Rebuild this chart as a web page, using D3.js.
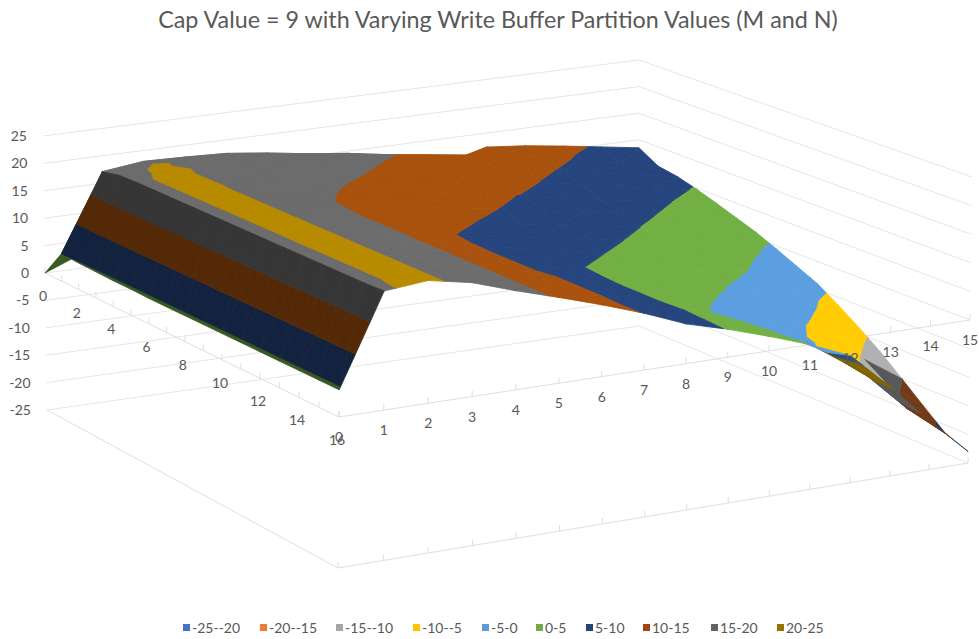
<!DOCTYPE html>
<html>
<head>
<meta charset="utf-8">
<script src="https://d3js.org/d3.v7.min.js"></script>
<style>
html,body{margin:0;padding:0;background:#fff;}
svg{display:block;}
text{font-family:Lato,"Open Sans",sans-serif;fill:#595959;}
</style>
</head>
<body>
<svg id="chart" width="979" height="639"></svg>
<script>
// Write-buffer surface: one row per M (0-16), one value per N (0-15).
const titleText = "Cap Value = 9 with Varying Write Buffer Partition Values (M and N)";
const mTicks = [0,2,4,6,8,10,12,14,16];
const nTicks = d3.range(0,16);
const zTicks = [25,20,15,10,5,0,-5,-10,-15,-20,-25];
const bandNames = ["-25--20","-20--15","-15--10","-10--5","-5-0","0-5","5-10","10-15","15-20","20-25"];
const bandLows = [-25,-20,-15,-10,-5,0,5,10,15,20];
const legendColors = ["#4472c4","#ed7d31","#a5a5a5","#ffc000","#5b9bd5","#70ad47","#264478","#9e480e","#636363","#997300"];
const surfaceColors = ["#3f6cc0","#e4762c","#b0b0b0","#ffcc05","#5b9fe0","#72b044","#26457e","#a8520e","#6c6c6c","#b88a00"];

const row0  = [0,3,0,0,0,0,0,0,0,0,9,12.4,11.7,10.7,9.6,8.5];
const row1  = [5,18.9,19.8,19.6,19.3,18.4,17.3,16.4,15.2,14.2,13.2,12.2,11.1,9.6,7.8,6.4];
const row2  = [4.8,19.6,20.2,19.5,19,18,16.6,15.2,14.2,13.4,12.4,11.1,9.7,8.3,7,5.8];
const row3  = [4.7,19.7,20.5,19.2,18.6,17,15.2,14.4,13.6,12.8,11.5,9.8,8.6,7.3,5.9,4.8];
const row4  = [4.6,19.7,20.5,19.2,17.8,15.5,14.2,13.1,12,10.9,9.8,8.5,7.2,6,4.8,3.6];
const row5  = [4.6,19.7,20.5,19.1,17,14.8,13.5,12.2,11,9.9,8.5,7.3,6.1,4.9,3.6,2.3];
const row6  = [4.5,19.7,20.5,19.1,16.9,14.6,12.9,11,9.8,8.5,7.3,6.2,5,3.7,2.4,1];
const row7  = [4.5,19.7,20.5,19.1,16.8,14.5,12.1,9.8,8.6,7.4,6.3,5.1,3.8,2.4,1.1,-0.6];
const row8  = [4.5,19.7,20.5,19.1,16.8,14.5,12,9.6,8,6.6,5.1,3.9,2.5,1.2,-0.2,-2.3];
const row9  = [4.5,19.7,20.5,19.1,16.8,14.5,12,9.5,7.3,5.1,3.9,2.7,1.5,0.3,-1.7,-4];
const row10 = [4.5,19.7,20.5,19.1,16.7,14.5,12.1,9.5,7.2,5,3.5,2,0.3,-1.9,-3.7,-6.4];
const row11 = [4.5,19.7,20.5,19.1,16.7,14.5,12.1,9.5,7,4.9,2.5,0.5,-1.2,-3.2,-5.4,-9];
const row12 = [4.5,19.7,20.5,19.1,16.7,14.5,12.2,9.8,7,4.9,1.4,-0.8,-2.8,-4.8,-7.8,-11.8];
const row13 = [4.5,19.7,20.5,19.1,16.7,14.5,12.2,9.8,6.9,4.9,1.6,-0.5,-3.2,-6.5,-10.4,-15];
const row14 = [4.5,19.7,20.5,19.1,16.7,14.5,12.2,9.8,6.9,5,2,-0.3,-3.8,-8.6,-13,-18.3];
const row15 = [4.5,19.7,20.5,19.1,16.7,14.5,12.2,9.7,6.8,4.9,2.2,-0.2,-4,-9.3,-16,-21.5];
const row16 = [4.5,19.8,20.5,19.1,16.7,14.5,12.2,9.7,6.8,4.8,2.5,0,-3,-9.5,-16.5,-23];
const zValues = [row0,row1,row2,row3,row4,row5,row6,row7,row8,row9,row10,row11,row12,row13,row14,row15,row16];

const svg = d3.select("#chart");

const scaleM = d3.scaleLinear().domain([0,16]).range([0,1]);
const scaleN = d3.scaleLinear().domain([0,15]).range([0,1]);
const scaleZ = d3.scaleLinear().domain([-25,0]).range([1,0]);   // extrapolates above zero

// Perspective map of the unit square onto a quadrilateral (corners in order 00,10,11,01).
function squareToQuad(p0,p1,p2,p3){
  const dx1=p1[0]-p2[0], dx2=p3[0]-p2[0], sx=p0[0]-p1[0]+p2[0]-p3[0];
  const dy1=p1[1]-p2[1], dy2=p3[1]-p2[1], sy=p0[1]-p1[1]+p2[1]-p3[1];
  const den=dx1*dy2-dx2*dy1;
  const g=(sx*dy2-dx2*sy)/den, h=(dx1*sy-sx*dy1)/den;
  const a=p1[0]-p0[0]+g*p1[0], b=p3[0]-p0[0]+h*p3[0], c=p0[0];
  const d=p1[1]-p0[1]+g*p1[1], e=p3[1]-p0[1]+h*p3[1], f=p0[1];
  return (u,v)=>{const w=g*u+h*v+1; return [(a*u+b*v+c)/w,(d*u+e*v+f)/w];};
}
const planeZero  = squareToQuad([45,273],[339,417],[970,320],[639,193]);
const planeFloor = squareToQuad([47,410],[338,568],[968,463],[639,326]);

function project(m,n,z){
  const u=scaleM(m), v=scaleN(n), t=scaleZ(z);
  const a=planeZero(u,v), b=planeFloor(u,v);
  return [a[0]+(b[0]-a[0])*t, a[1]+(b[1]-a[1])*t];
}
const line = d3.line();
const closed = d3.line().curve(d3.curveLinearClosed);

// Walls
const grid = svg.append("g").attr("fill","none").attr("stroke","#e6e6e6").attr("stroke-width",1);
zTicks.forEach(z=>{
  grid.append("path").attr("d",line([project(0,0,z),project(0,15,z),project(16,15,z)]));
});
// Floor edges and the zero-plane axes
const axes = svg.append("g").attr("fill","none").attr("stroke","#dedede").attr("stroke-width",1);
axes.append("path").attr("d",line([project(0,0,-25),project(16,0,-25),project(16,15,-25)]));
axes.append("path").attr("d",line([project(0,0,0),project(16,0,0),project(16,15,0)]));
d3.range(0,17).forEach(m=>{
  const p=project(m,0,0);
  axes.append("path").attr("d",line([p,[p[0],p[1]-6]]));
});
nTicks.forEach(n=>{
  const p=project(16,n,0);
  axes.append("path").attr("d",line([p,[p[0],p[1]-6]]));
  const f=project(16,n,-25);
  axes.append("path").attr("d",line([f,[f[0],f[1]-6]]));
});

// Clip a polygon of [m,n,z] vertices against a height limit.
function clipZ(poly,limit,keepAbove){
  const out=[];
  const inside=p=>keepAbove?p[2]>=limit:p[2]<=limit;
  poly.forEach((p,i)=>{
    const q=poly[(i+1)%poly.length];
    const pi=inside(p), qi=inside(q);
    if(pi) out.push(p);
    if(pi!==qi){
      const t=(limit-p[2])/(q[2]-p[2]);
      out.push([p[0]+(q[0]-p[0])*t,p[1]+(q[1]-p[1])*t,limit]);
    }
  });
  return out;
}
function shadeOf(color,k){
  const c=d3.rgb(color);
  return d3.rgb(c.r*k,c.g*k,c.b*k).formatHex();
}
// Steep faces catch less light
function cellShade(m,n){
  const s=((zValues[m][n+1]-zValues[m][n])+(zValues[m+1][n+1]-zValues[m+1][n]))/2;
  return Math.abs(s)>4.5 ? 0.5 : 1;
}

// Surface drawn from the far corner forward so nearer cells cover farther ones
const surface = svg.append("g");
for(let m=0;m<16;m++){
  for(let n=14;n>=0;n--){
    const a=[m,n,zValues[m][n]], b=[m,n+1,zValues[m][n+1]];
    const c=[m+1,n+1,zValues[m+1][n+1]], d=[m+1,n,zValues[m+1][n]];
    const k=cellShade(m,n);
    [[a,b,d],[b,c,d]].forEach(tri=>{
      bandLows.forEach((lo,i)=>{
        let poly=clipZ(tri,lo,true);
        if(poly.length>2) poly=clipZ(poly,lo+5,false);
        if(poly.length<3) return;
        const fill=shadeOf(surfaceColors[i],k);
        surface.append("path")
          .attr("d",closed(poly.map(p=>project(p[0],p[1],p[2]))))
          .attr("fill",fill).attr("stroke",fill).attr("stroke-width",0.8).attr("stroke-linejoin","round");
      });
    });
  }
}

// Title
svg.append("text").attr("x",498).attr("y",28).attr("text-anchor","middle")
  .attr("font-size",23.3).text(titleText);

// Value labels follow the slanted left edge of the wall
svg.append("g").selectAll("text").data(zTicks).join("text")
  .attr("x",z=>project(0,0,z)[0]-16).attr("y",z=>project(0,0,z)[1]+5)
  .attr("text-anchor","end").attr("font-size",14).text(z=>z);
// M labels
svg.append("g").selectAll("text").data(mTicks).join("text")
  .attr("x",m=>project(m,0,0)[0]-2).attr("y",m=>project(m,0,0)[1]+28)
  .attr("text-anchor","middle").attr("font-size",14).text(m=>m);
// N labels
svg.append("g").selectAll("text").data(nTicks).join("text")
  .attr("x",n=>project(16,n,0)[0]).attr("y",n=>project(16,n,0)[1]+25)
  .attr("text-anchor","middle").attr("font-size",14).text(n=>n);

// Legend
const legendX = [183,260,336,413,482,536,586,643,711,777];
const legend = svg.append("g").selectAll("g").data(bandNames).join("g")
  .attr("transform",(d,i)=>`translate(${legendX[i]},622)`);
legend.append("rect").attr("width",7).attr("height",7).attr("y",2).attr("fill",(d,i)=>legendColors[i]);
legend.append("text").attr("x",9).attr("y",11).attr("font-size",14).text(d=>d);
</script>
</body>
</html>
